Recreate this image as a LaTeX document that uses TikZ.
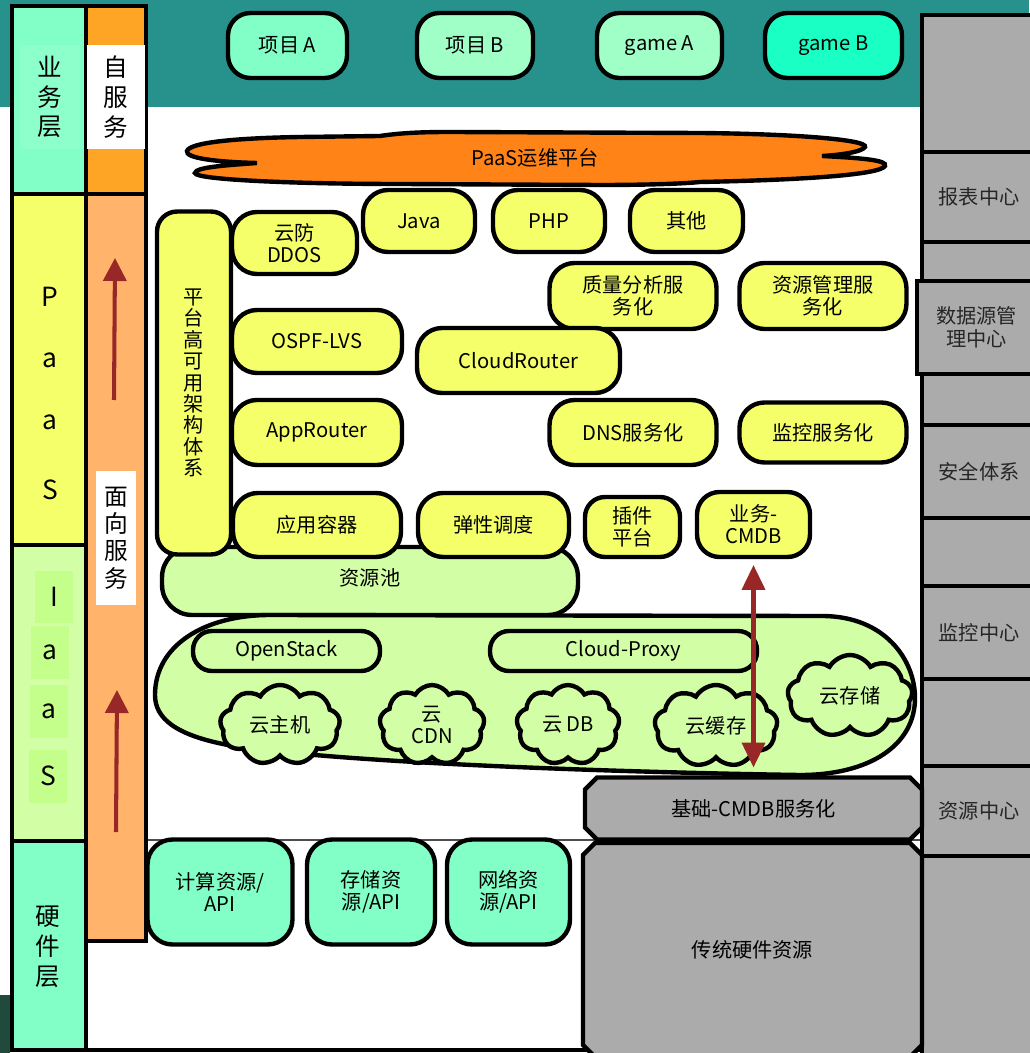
\documentclass[tikz,border=0pt]{standalone}
\usepackage{fontspec}
\setmainfont{Noto Sans CJK SC}
\usetikzlibrary{shapes.geometric, shapes.misc, shapes.symbols, arrows.meta, positioning}
\definecolor{bandteal}{HTML}{27918C}
\definecolor{mintgreen}{HTML}{82FFC6}
\definecolor{mintinner}{HTML}{8DFFCB}
\definecolor{mintlight}{HTML}{A0FFC6}
\definecolor{mintbright}{HTML}{1AFFC4}
\definecolor{paasyellow}{HTML}{F4FF6A}
\definecolor{iaasgreen}{HTML}{D2FFA6}
\definecolor{iaasbox}{HTML}{C4FF8C}
\definecolor{opsorange}{HTML}{FF8317}
\definecolor{selforange}{HTML}{FFA526}
\definecolor{soapeach}{HTML}{FFB36B}
\definecolor{sidegray}{HTML}{ABABAB}
\definecolor{arrowred}{HTML}{982828}
\definecolor{cornerdark}{HTML}{1F4A3C}
\tikzset{
	colbox/.style={
		rectangle,
		draw=black,
		line width=2.5pt,
		inner sep=0pt,
		outer sep=0pt
	},
	collabel/.style={
		rectangle,
		align=center,
		inner sep=0pt,
		font=\fontsize{14}{17}\selectfont
	},
	letter/.style={
		rectangle,
		inner sep=0pt,
		font=\fontsize{15}{17}\selectfont
	},
	biz/.style={
		rectangle,
		rounded corners=0.45cm,
		minimum height=1.3cm,
		text centered,
		draw=black,
		line width=2.5pt,
		fill=mintgreen,
		inner sep=0pt,
		outer sep=0pt,
		font=\fontsize{11.5}{13}\selectfont
	},
	svc/.style={
		rectangle,
		rounded corners=0.5cm,
		minimum height=1.26cm,
		align=center,
		draw=black,
		line width=2.5pt,
		fill=paasyellow,
		inner sep=0pt,
		outer sep=0pt,
		font=\fontsize{11.5}{12.5}\selectfont
	},
	pool/.style={
		rectangle,
		rounded corners=0.4cm,
		align=center,
		draw=black,
		line width=2.5pt,
		fill=iaasgreen,
		inner sep=0pt,
		outer sep=0pt,
		font=\fontsize{11.5}{12.5}\selectfont
	},
	cloudbox/.style={
		cloud,
		cloud puffs=9,
		cloud puff arc=120,
		cloud ignores aspect,
		align=center,
		draw=black,
		line width=2.5pt,
		fill=iaasgreen,
		inner sep=0pt,
		outer sep=0pt,
		font=\fontsize{11.5}{12.5}\selectfont
	},
	hw/.style={
		rectangle,
		rounded corners=0.5cm,
		minimum height=2.1cm,
		align=center,
		draw=black,
		line width=2.5pt,
		fill=mintgreen,
		inner sep=0pt,
		outer sep=0pt,
		font=\fontsize{11.5}{12.5}\selectfont
	},
	grayblk/.style={
		chamfered rectangle,
		chamfered rectangle sep=0.12cm,
		align=center,
		draw=black,
		line width=2.5pt,
		fill=sidegray,
		inner sep=0pt,
		outer sep=0pt,
		font=\fontsize{11.5}{12.5}\selectfont
	},
	sidebox/.style={
		rectangle,
		minimum width=2.28cm,
		align=center,
		draw=black,
		line width=2.5pt,
		fill=sidegray,
		text=black!85,
		inner sep=0pt,
		outer sep=0pt,
		font=\fontsize{11.5}{13}\selectfont
	},
	uparrow/.style={draw=arrowred, line width=2.3pt, -{Triangle[length=0.46cm,width=0.46cm]}},
	dblarrow/.style={draw=arrowred, line width=2.3pt, {Triangle[length=0.5cm,width=0.46cm]}-{Triangle[length=0.5cm,width=0.46cm]}}
}

\begin{document}
\begin{tikzpicture}[x=0.02cm, y=-0.02cm]
	\fill[white] (0,0) rectangle (1029,1053);
	\useasboundingbox (0,0) rectangle (1029,1053);
	\fill[bandteal] (0,0) rectangle (1029,107);
	\fill[cornerdark] (0,995) rectangle (10,1053);
	\draw[line width=1pt, black!70] (146,840) -- (922,840);
	\draw[line width=2.5pt] (86,1050) -- (922,1050);

	% layer columns
	\node (bizcol) [colbox, fill=mintgreen, minimum width=1.48cm, minimum height=3.76cm] at (49,100) {};
	\node (paascol) [colbox, fill=paasyellow, minimum width=1.48cm, minimum height=7.02cm, below=0pt of bizcol] {};
	\node (iaascol) [colbox, fill=iaasgreen, minimum width=1.48cm, minimum height=5.92cm, below=0pt of paascol] {};
	\node (hwcol) [colbox, fill=mintgreen, minimum width=1.48cm, minimum height=4.18cm, below=0pt of iaascol] {};
	\node (selfcol) [colbox, fill=selforange, minimum width=1.2cm, minimum height=3.76cm, right=0pt of bizcol] {};
	\node (soacol) [colbox, fill=soapeach, minimum width=1.2cm, minimum height=14.94cm, below=0pt of selfcol] {};

	\node (bizlab) [collabel, fill=mintinner, minimum width=1.2cm, minimum height=2.1cm] at (50,97) {业\\务\\层};
	\node (selflab) [collabel, fill=white, minimum width=1.16cm, minimum height=2.1cm] at (116,97) {自\\服\\务};
	\node (soalab) [collabel, fill=white, minimum width=0.82cm, minimum height=2.7cm, font=\fontsize{13.5}{15.5}\selectfont] at (116,538) {面\\向\\服\\务};
	\node (hwlab) [collabel] at (48,947) {硬\\件\\层};

	\node (paasP) [letter] at (50,297) {P};
	\node (paasA1) [letter] at (50,360) {a};
	\node (paasA2) [letter] at (50,422) {a};
	\node (paasS) [letter] at (50,490) {S};
	\node (iaasI) [letter, fill=iaasbox, minimum width=0.76cm, minimum height=1.06cm] at (54,597) {I};
	\node (iaasA1) [letter, fill=iaasbox, minimum width=0.76cm, minimum height=1.06cm] at (50,652) {a};
	\node (iaasA2) [letter, fill=iaasbox, minimum width=0.76cm, minimum height=1.06cm] at (49,711) {a};
	\node (iaasS) [letter, fill=iaasbox, minimum width=0.76cm, minimum height=1.06cm] at (48,776) {S};

	\coordinate (soabase1) at (114,400);
	\coordinate (soatip1) at (115,258);
	\coordinate (soabase2) at (116,832);
	\coordinate (soatip2) at (117,690);
	\draw [uparrow] (soabase1) -- (soatip1);
	\draw [uparrow] (soabase2) -- (soatip2);

	% right column
	\node (rtop) [sidebox, minimum height=2.74cm] at (979,83.5) {};
	\node (report) [sidebox, minimum height=1.8cm, below=0pt of rtop] {报表中心};
	\node (rgap1) [sidebox, minimum height=0.78cm, below=0pt of report] {};
	\node (datasrc) [sidebox, minimum width=2.38cm, minimum height=1.86cm, below=0pt of rgap1, xshift=-0.05cm] {数据源管\\理中心};
	\node (rgap2) [sidebox, minimum height=1.02cm, below=0pt of rgap1, yshift=-1.86cm] {};
	\node (security) [sidebox, minimum height=1.86cm, below=0pt of rgap2] {安全体系};
	\node (rgap3) [sidebox, minimum height=1.36cm, below=0pt of security] {};
	\node (monitorc) [sidebox, minimum height=1.86cm, below=0pt of rgap3] {监控中心};
	\node (rgap4) [sidebox, minimum height=1.74cm, below=0pt of monitorc] {};
	\node (resc) [sidebox, minimum height=1.8cm, below=0pt of rgap4] {资源中心};
	\node (rbottom) [sidebox, minimum height=4.08cm, below=0pt of resc] {};

	% business layer
	\node (projA) [biz, minimum width=2.38cm] at (287.5,45.5) {项目 A};
	\node (projB) [biz, fill=mintlight, minimum width=2.32cm] at (475,45.5) {项目 B};
	\node (gameA) [biz, fill=mintlight, minimum width=2.5cm] at (659.5,45.5) {game A};
	\node (gameB) [biz, fill=mintbright, minimum width=2.74cm] at (833.5,45.5) {game B};

	% PaaS ops platform
	\draw [line width=2.5pt, fill=opsorange] (257,163) .. controls (215,162) and (185,158) .. (187,151)
		.. controls (190,142) and (240,138) .. (300,137) -- (380,136)
		.. controls (400,133) and (420,132) .. (450,132) -- (700,133)
		.. controls (800,134) and (868,140) .. (865,147)
		.. controls (862,152) and (840,155) .. (822,156)
		.. controls (860,158) and (888,160) .. (885,166)
		.. controls (880,175) and (800,180) .. (700,182)
		.. controls (680,184) and (640,185) .. (600,185) -- (400,184)
		.. controls (300,184) and (195,180) .. (195,173)
		.. controls (195,167) and (230,165) .. (257,163) -- cycle;
	\node (paasops) [font=\fontsize{11.5}{13}\selectfont] at (535,158) {PaaS运维平台};

	% PaaS services
	\node (respool) [pool, rounded corners=0.6cm, minimum width=8.32cm, minimum height=1.36cm] at (370,581) {};
	\node (respoollab) [font=\fontsize{11.5}{13}\selectfont] at (370,578) {资源池};
	\node (haarch) [svc, rounded corners=0.4cm, minimum width=1.48cm, minimum height=6.86cm, font=\fontsize{11.5}{12.2}\selectfont] at (194,383) {平\\台\\高\\可\\用\\架\\构\\体\\系};
	\node (ddos) [svc, minimum width=2.5cm, minimum height=1.24cm] at (294.5,243) {云防\\DDOS};
	\node (java) [svc, minimum width=2.24cm, minimum height=1.24cm] at (419,221) {Java};
	\node (php) [svc, minimum width=2.24cm, minimum height=1.24cm, right=0.36cm of java] {PHP};
	\node (other) [svc, minimum width=2.26cm, minimum height=1.24cm, right=0.5cm of php] {其他};
	\node (quality) [svc, minimum width=3.34cm, minimum height=1.32cm] at (633,296) {质量分析服\\务化};
	\node (resmgmt) [svc, minimum width=3.34cm, minimum height=1.32cm, right=0.46cm of quality] {资源管理服\\务化};
	\node (ospf) [svc, minimum width=3.4cm] at (317,341.5) {OSPF-LVS};
	\node (cloudrouter) [svc, minimum width=4.06cm, minimum height=1.3cm] at (518.5,360.5) {CloudRouter};
	\node (approuter) [svc, minimum width=3.4cm, minimum height=1.3cm, below=0.54cm of ospf] {AppRouter};
	\node (dns) [svc, minimum width=3.34cm, minimum height=1.3cm] at (633,432.5) {DNS服务化};
	\node (monitor) [svc, minimum width=3.34cm, minimum height=1.2cm, right=0.46cm of dns] {监控服务化};
	\node (container) [svc, minimum width=3.36cm, minimum height=1.28cm, below=0.56cm of approuter] {应用容器};
	\node (elastic) [svc, minimum width=3.02cm, minimum height=1.28cm, right=0.34cm of container] {弹性调度};
	\node (plugin) [svc, rounded corners=0.4cm, minimum width=1.9cm, minimum height=1.2cm] at (632.5,527) {插件\\平台};
	\node (bizcmdb) [svc, rounded corners=0.45cm, minimum width=2.26cm, minimum height=1.3cm] at (753.5,524.5) {业务-\\CMDB};

	% IaaS
	\draw [line width=2.5pt, fill=iaasgreen] (270,615) -- (822,616)
		.. controls (885,616) and (915,660) .. (915,698)
		.. controls (915,745) and (870,775) .. (800,775)
		.. controls (600,772) and (330,762) .. (228,745)
		.. controls (175,735) and (155,718) .. (155,695)
		.. controls (155,645) and (205,615) .. (270,615) -- cycle;
	\node (openstack) [pool, rounded corners=0.38cm, minimum width=3.74cm, minimum height=0.8cm] at (286.5,651) {OpenStack};
	\node (cloudproxy) [pool, rounded corners=0.38cm, minimum width=5.34cm, minimum height=0.8cm] at (623.5,651) {Cloud-Proxy};
	\node (vm) [cloudbox, minimum width=2.4cm, minimum height=1.6cm] at (280,725) {云主机};
	\node (cdn) [cloudbox, minimum width=2.1cm, minimum height=1.6cm] at (432,725) {云\\CDN};
	\node (clouddb) [cloudbox, minimum width=2.06cm, minimum height=1.6cm] at (568,725) {云 DB};
	\node (cache) [cloudbox, minimum width=2.46cm, minimum height=1.64cm] at (716,726) {云缓存};
	\node (storage) [cloudbox, minimum width=2.5cm, minimum height=1.64cm] at (850,696) {云存储};

	% CMDB and legacy hardware
	\node (basecmdb) [grayblk, minimum width=6.74cm, minimum height=1.24cm] at (753.5,808.5) {基础-CMDB服务化};
	\node (legacy) [grayblk, minimum width=6.78cm, minimum height=4.28cm] at (752.5,950) {传统硬件资源};
	\draw [dblarrow, shorten <=0.16cm, shorten >=0.2cm] (bizcmdb.south) -- (basecmdb.north);

	% hardware layer
	\node (compute) [hw, minimum width=2.9cm] at (220,892) {计算资源/\\API};
	\node (store) [hw, minimum width=2.56cm] at (371,892) {存储资\\源/API};
	\node (network) [hw, minimum width=2.46cm] at (508.5,892) {网络资\\源/API};
\end{tikzpicture}
\end{document}
